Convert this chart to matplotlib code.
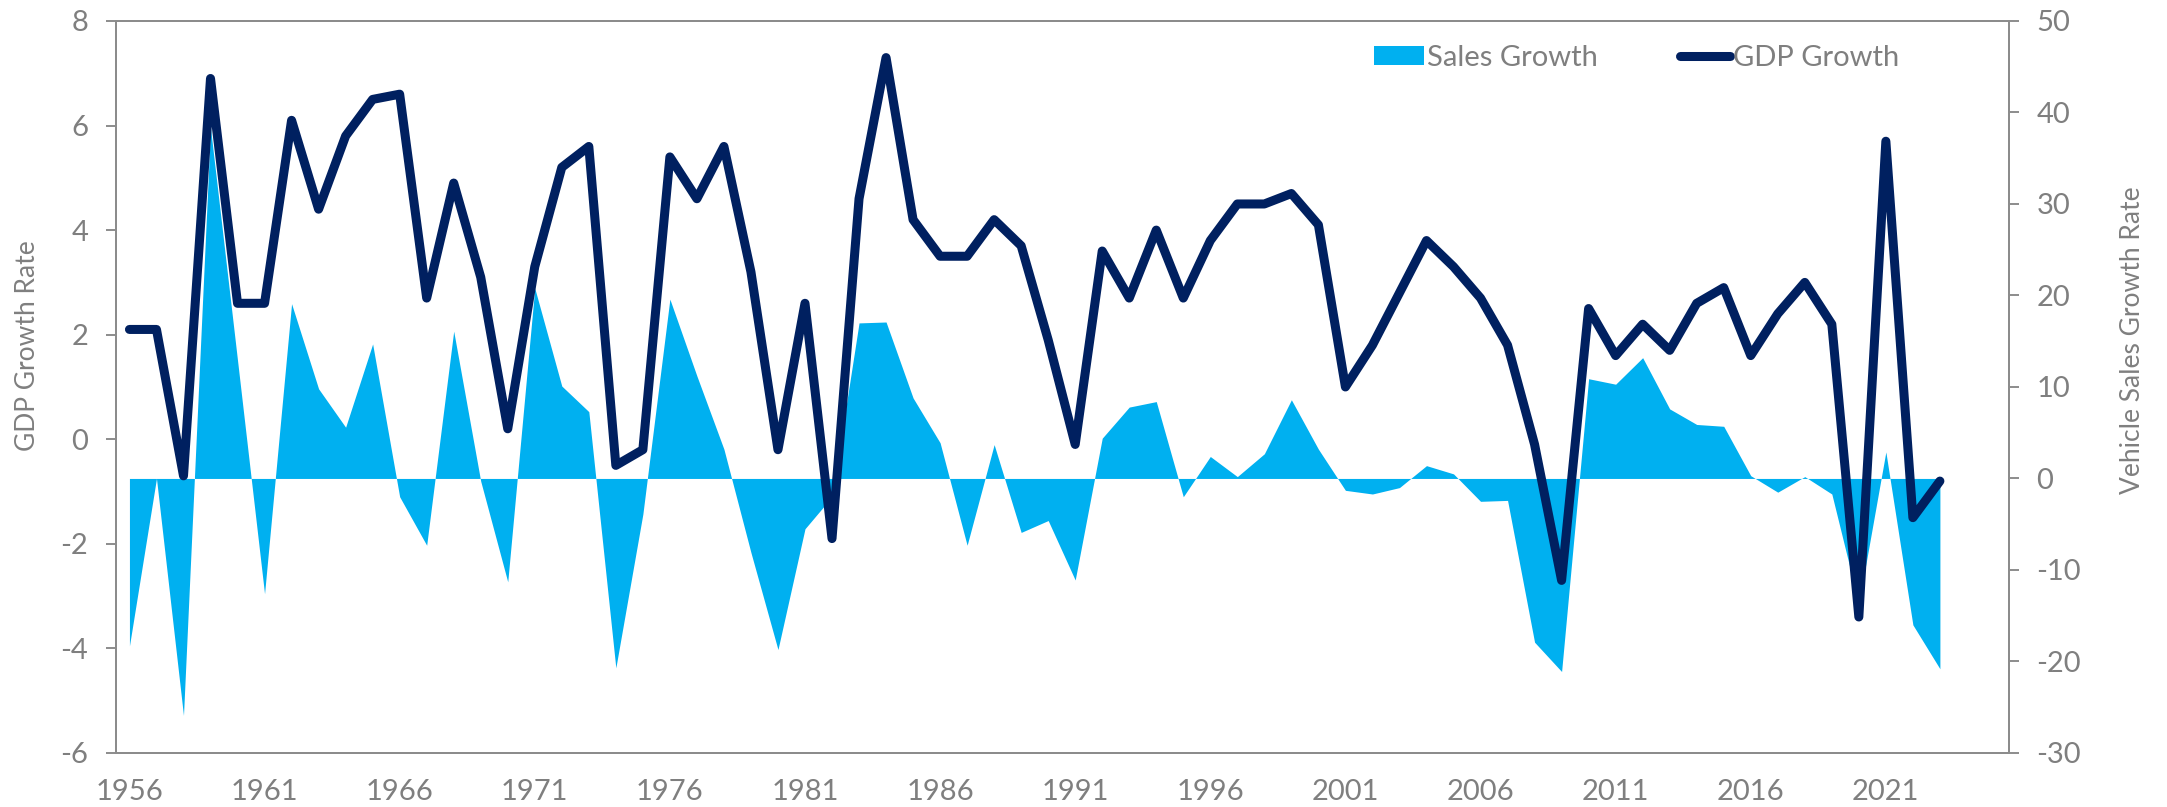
import numpy as np
import matplotlib
matplotlib.use("Agg")
import matplotlib.pyplot as plt

plt.rcParams['font.family'] = ['Lato', 'DejaVu Sans']
plt.rcParams['axes.unicode_minus'] = False

years = list(range(1956, 2024))

gdp_growth = [2.1, 2.1, -0.7, 6.9, 2.6, 2.6, 6.1, 4.4, 5.8, 6.5,
              6.6, 2.7, 4.9, 3.1, 0.2, 3.3, 5.2, 5.6, -0.5, -0.2,
              5.4, 4.6, 5.6, 3.2, -0.2, 2.6, -1.9, 4.6, 7.3, 4.2,
              3.5, 3.5, 4.2, 3.7, 1.9, -0.1, 3.6, 2.7, 4.0, 2.7,
              3.8, 4.5, 4.5, 4.7, 4.1, 1.0, 1.8, 2.8, 3.8, 3.3,
              2.7, 1.8, -0.1, -2.7, 2.5, 1.6, 2.2, 1.7, 2.6, 2.9,
              1.6, 2.4, 3.0, 2.2, -3.4, 5.7, -1.5, -0.8]

sales_growth = [-18.3, 0.0, -25.9, 38.3, 12.9, -12.6, 19.1, 9.8, 5.6, 14.7,
                -2.0, -7.3, 16.1, -0.3, -11.3, 20.8, 10.1, 7.3, -20.7, -3.9,
                19.6, 11.2, 3.2, -8.1, -18.7, -5.5, -2.0, 17.0, 17.1, 8.8,
                3.9, -7.3, 3.7, -5.9, -4.6, -11.1, 4.4, 7.8, 8.4, -2.0,
                2.4, 0.2, 2.7, 8.6, 3.2, -1.3, -1.7, -1.0, 1.4, 0.5,
                -2.5, -2.4, -17.9, -21.1, 10.9, 10.3, 13.2, 7.6, 5.9, 5.7,
                0.3, -1.5, 0.2, -1.7, -13.7, 2.9, -16.0, -20.8]

year_ticks = list(range(1956, 2022, 5))
gdp_ticks = [-6, -4, -2, 0, 2, 4, 6, 8]
sales_ticks = [-30, -20, -10, 0, 10, 20, 30, 40, 50]

grey = '#7f7f7f'
axis_grey = '#8c8c8c'
area_color = '#00b0f0'
line_color = '#002060'

fig = plt.figure(figsize=(21.67, 8.07), dpi=100)
ax = fig.add_axes([0.0535, 0.067, 0.8735, 0.907])
ax2 = ax.twinx()

# sales growth area on the right axis, behind the GDP line
ax2.fill_between(years, sales_growth, 0, color=area_color, linewidth=0,
                 label='Sales Growth')
ax2.set_ylim(-30, 50)
ax2.set_yticks(sales_ticks)

ax.plot(years, gdp_growth, color=line_color, linewidth=6.5,
        solid_capstyle='round', solid_joinstyle='round', label='GDP Growth')
ax.set_ylim(-6, 8)
ax.set_yticks(gdp_ticks)
ax.set_xlim(1955.5, 2025.55)
ax.set_xticks(year_ticks)
ax.set_zorder(ax2.get_zorder() + 1)
ax.patch.set_visible(False)

for a in (ax, ax2):
    for s in a.spines.values():
        s.set_color(axis_grey)
        s.set_linewidth(1.4)

ax.tick_params(axis='y', colors=axis_grey, labelcolor=grey, labelsize=21,
               length=7, width=1.4, pad=13)
ax.tick_params(axis='x', labelcolor=grey, labelsize=21, length=0, pad=19)
ax2.tick_params(axis='y', colors=axis_grey, labelcolor=grey, labelsize=21,
                length=7, width=1.4, pad=13)

ax.set_ylabel('GDP Growth Rate', color=grey, fontsize=19)
ax.yaxis.set_label_coords(-0.040, 0.557)
ax2.set_ylabel('Vehicle Sales Growth Rate', color=grey, fontsize=19, rotation=90)
ax2.yaxis.set_label_coords(1.059, 0.564)

h1, l1 = ax2.get_legend_handles_labels()
h2, l2 = ax.get_legend_handles_labels()
leg = ax.legend(h1 + h2, l1 + l2, loc='center', bbox_to_anchor=(0.8035, 0.95),
                ncol=2, frameon=False, fontsize=21, handlelength=1.7,
                handleheight=0.62, handletextpad=0.12, columnspacing=2.8)
for t in leg.get_texts():
    t.set_color(grey)

fig.savefig('out.png', dpi=100)
